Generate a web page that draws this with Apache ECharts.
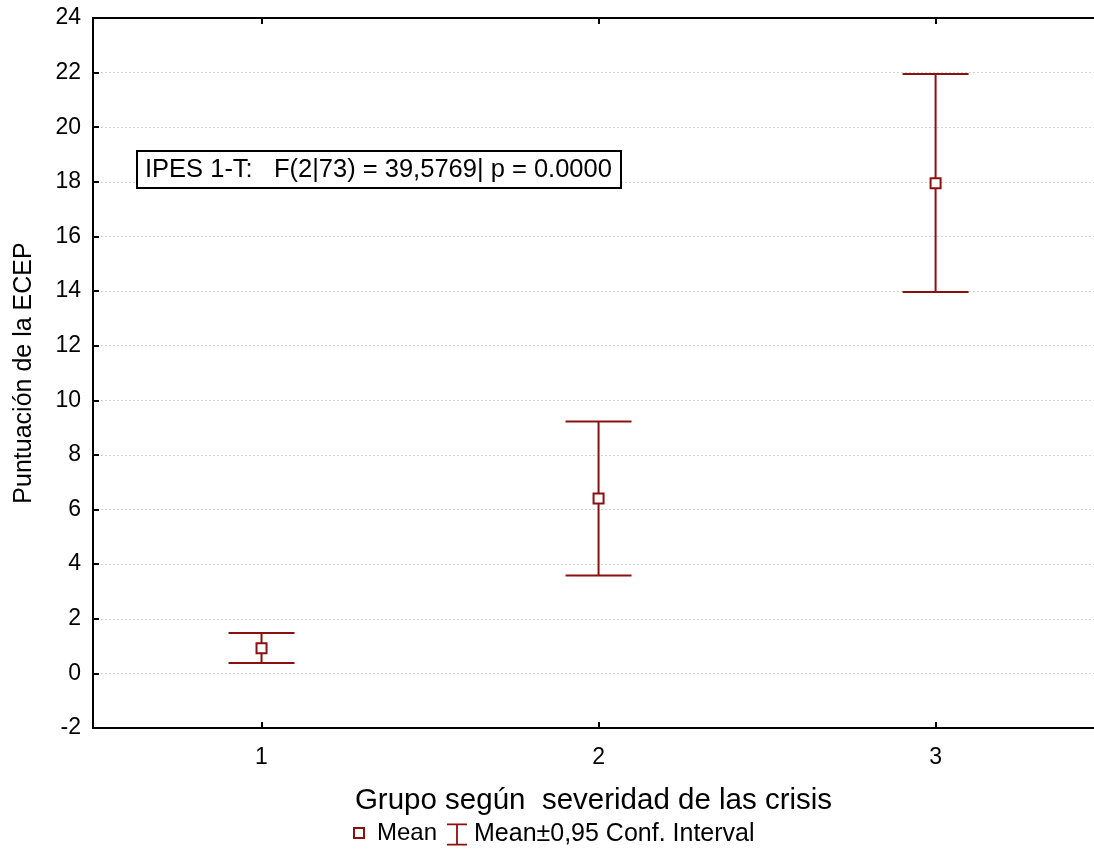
<!DOCTYPE html>
<html>
<head>
<meta charset="utf-8">
<script src="https://cdn.jsdelivr.net/npm/echarts@6/dist/echarts.min.js"></script>
<style>html,body{margin:0;padding:0;background:#fff;overflow:hidden;}#c{width:1094px;height:850px;}</style>
</head>
<body>
<div id="c"></div>
<script>
const categories = [1, 2, 3];
const means = [0.92, 6.40, 17.95];
const upper = [1.48, 9.22, 21.95];
const lower = [0.38, 3.58, 13.97];
const xMin = 0.5, xMax = 3.47;
const yMin = -2, yMax = 24, yStep = 2;
const annotation = 'IPES 1-T:   F(2|73) = 39,5769| p = 0.0000';
const xName = 'Grupo según  severidad de las crisis';
const yName = 'Puntuación de la ECEP';
const meanName = 'Mean';
const ciName = 'Mean±0,95 Conf. Interval';

const RED = '#8B1111';
const FONT = 'Liberation Sans, Arial, sans-serif';
const chart = echarts.init(document.getElementById('c'));
const ciData = categories.map((c, i) => [c, lower[i], upper[i]]);

chart.setOption({
  animation: false,
  backgroundColor: '#fff',
  textStyle: { fontFamily: FONT, color: '#000' },
  grid: { left: 93, right: 0, top: 18, bottom: 122, containLabel: false },
  title: {
    text: annotation, left: 137, top: 151,
    padding: [6, 9, 5, 8],
    borderColor: '#000', borderWidth: 2, backgroundColor: '#fff',
    textStyle: { fontSize: 25.5, fontWeight: 'normal', fontFamily: FONT, color: '#000' }
  },
  legend: [
    {
      data: [{ name: meanName, icon: 'rect', itemStyle: { color: '#fff', borderColor: RED, borderWidth: 2 } }],
      left: 353, top: 821, itemWidth: 10, itemHeight: 10, padding: 0,
      textStyle: { fontSize: 24, fontFamily: FONT, color: '#000', padding: [0, 0, 0, 8] }
    },
    {
      data: [{ name: ciName, icon: 'path://M0,0 H20 V1.8 H10.9 V20.2 H20 V22 H0 V20.2 H9.1 V1.8 H0 Z', itemStyle: { color: RED } }],
      left: 447, top: 822, itemWidth: 20, itemHeight: 22, padding: 0,
      textStyle: { fontSize: 25, fontFamily: FONT, color: '#000', padding: [0, 0, 0, 2] }
    }
  ],
  xAxis: [
    {
      type: 'value', min: xMin, max: xMax, position: 'bottom',
      name: xName, nameLocation: 'middle', nameGap: 58,
      nameTextStyle: { fontSize: 29.5, fontFamily: FONT, color: '#000', align: 'center' },
      axisLine: { onZero: false, lineStyle: { color: '#000', width: 2 } },
      axisTick: { inside: true, length: 6, customValues: categories, lineStyle: { color: '#000', width: 2 } },
      axisLabel: { fontSize: 23, color: '#000', margin: 18, fontFamily: FONT, customValues: categories },
      splitLine: { show: false }
    },
    {
      type: 'value', min: xMin, max: xMax, position: 'top',
      axisLine: { onZero: false, lineStyle: { color: '#000', width: 2 } },
      axisTick: { inside: true, length: 6, customValues: categories, lineStyle: { color: '#000', width: 2 } },
      axisLabel: { show: false },
      splitLine: { show: false }
    }
  ],
  yAxis: {
    type: 'value', min: yMin, max: yMax, interval: yStep,
    name: yName, nameLocation: 'middle', nameGap: 56, nameRotate: 90,
    nameTextStyle: { fontSize: 25, fontFamily: FONT, color: '#000' },
    axisLine: { show: true, onZero: false, lineStyle: { color: '#000', width: 2 } },
    axisTick: { show: true, inside: true, length: 6, lineStyle: { color: '#000', width: 2 } },
    axisLabel: { fontSize: 23, color: '#000', margin: 12, fontFamily: FONT },
    splitLine: { show: true, lineStyle: { color: '#d2d2d2', type: [2, 2], width: 1 } }
  },
  series: [
    {
      name: ciName, type: 'custom', xAxisIndex: 0, z: 2,
      itemStyle: { color: RED },
      data: ciData,
      encode: { x: 0, y: [1, 2] },
      renderItem: function (params, api) {
        const x = api.value(0);
        const lo = api.coord([x, api.value(1)]);
        const hi = api.coord([x, api.value(2)]);
        const hw = 33;
        const st = { stroke: RED, lineWidth: 2, fill: null };
        return {
          type: 'group',
          children: [
            { type: 'line', shape: { x1: lo[0], y1: lo[1], x2: hi[0], y2: hi[1] }, style: st },
            { type: 'line', shape: { x1: hi[0] - hw, y1: hi[1], x2: hi[0] + hw, y2: hi[1] }, style: st },
            { type: 'line', shape: { x1: lo[0] - hw, y1: lo[1], x2: lo[0] + hw, y2: lo[1] }, style: st }
          ]
        };
      }
    },
    {
      name: meanName, type: 'scatter', xAxisIndex: 0, z: 5,
      symbol: 'rect', symbolSize: 10,
      itemStyle: { color: '#fff', borderColor: RED, borderWidth: 2, opacity: 1 },
      data: means.map((m, i) => [categories[i], m])
    }
  ]
});
</script>
</body>
</html>
